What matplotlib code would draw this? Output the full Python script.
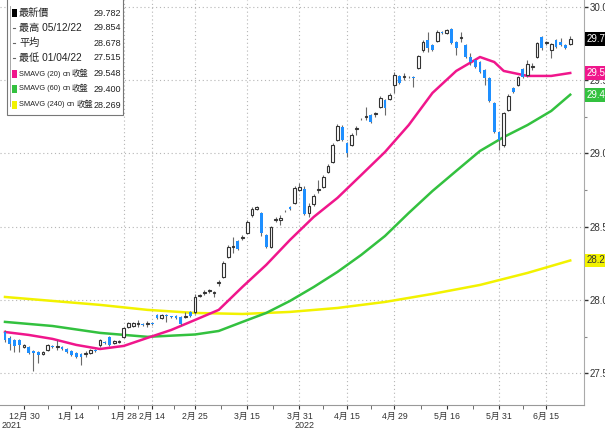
import matplotlib
matplotlib.use("Agg")
import matplotlib.pyplot as plt
import matplotlib.transforms as mtransforms
from matplotlib.patches import Rectangle
from matplotlib.lines import Line2D
import numpy as np

# daily OHLC (oldest first)
opens = [27.781, 27.741, 27.727, 27.727, 27.679, 27.679, 27.652, 27.645, 27.631, 27.659,
         27.686, 27.679, 27.679, 27.665, 27.652, 27.638, 27.631, 27.631, 27.638, 27.659,
         27.693, 27.713, 27.748, 27.706, 27.713, 27.748, 27.816, 27.822, 27.836, 27.836,
         27.835, 27.843, 27.897, 27.877, 27.891, 27.891, 27.891, 27.884, 27.884, 27.918,
         27.918, 28.027, 28.048, 28.061, 28.048, 28.116, 28.157, 28.293, 28.361, 28.402,
         28.423, 28.457, 28.580, 28.620, 28.593, 28.443, 28.361, 28.545, 28.545, 28.609,
         28.634, 28.661, 28.750, 28.757, 28.593, 28.655, 28.750, 28.770, 28.873, 28.941,
         29.091, 29.180, 29.071, 29.057, 29.166, 29.234, 29.248, 29.262, 29.268, 29.316,
         29.364, 29.371, 29.466, 29.528, 29.521, 29.521, 29.521, 29.582, 29.705, 29.773,
         29.739, 29.766, 29.828, 29.821, 29.848, 29.760, 29.787, 29.739, 29.657, 29.637,
         29.623, 29.569, 29.514, 29.343, 29.146, 29.057, 29.296, 29.446, 29.466, 29.575,
         29.534, 29.589, 29.657, 29.794, 29.753, 29.705, 29.773, 29.760, 29.739, 29.746]
highs = [27.795, 27.754, 27.734, 27.734, 27.700, 27.686, 27.659, 27.652, 27.652, 27.700,
         27.693, 27.727, 27.686, 27.672, 27.659, 27.645, 27.638, 27.652, 27.665, 27.665,
         27.734, 27.720, 27.754, 27.727, 27.727, 27.816, 27.850, 27.852, 27.863, 27.843,
         27.856, 27.850, 27.904, 27.904, 27.904, 27.893, 27.897, 27.891, 27.918, 27.925,
         28.041, 28.041, 28.068, 28.075, 28.061, 28.136, 28.266, 28.375, 28.429, 28.409,
         28.443, 28.545, 28.634, 28.641, 28.600, 28.450, 28.505, 28.566, 28.580, 28.614,
         28.641, 28.777, 28.798, 28.777, 28.661, 28.723, 28.818, 28.852, 28.927, 29.071,
         29.200, 29.193, 29.077, 29.139, 29.187, 29.241, 29.316, 29.268, 29.282, 29.391,
         29.371, 29.412, 29.555, 29.534, 29.548, 29.528, 29.528, 29.671, 29.773, 29.828,
         29.746, 29.841, 29.835, 29.848, 29.854, 29.766, 29.828, 29.746, 29.684, 29.644,
         29.630, 29.575, 29.521, 29.350, 29.152, 29.282, 29.405, 29.453, 29.528, 29.582,
         29.637, 29.616, 29.760, 29.800, 29.766, 29.753, 29.780, 29.787, 29.746, 29.800]
lows = [27.713, 27.659, 27.645, 27.645, 27.672, 27.631, 27.515, 27.570, 27.625, 27.652,
        27.672, 27.659, 27.659, 27.638, 27.618, 27.604, 27.556, 27.611, 27.631, 27.645,
        27.679, 27.700, 27.686, 27.700, 27.706, 27.741, 27.809, 27.815, 27.816, 27.822,
        27.816, 27.829, 27.870, 27.870, 27.850, 27.877, 27.870, 27.829, 27.877, 27.884,
        27.904, 28.020, 28.034, 28.048, 28.020, 28.095, 28.150, 28.286, 28.320, 28.341,
        28.409, 28.450, 28.566, 28.614, 28.436, 28.354, 28.354, 28.532, 28.511, 28.600,
        28.614, 28.655, 28.743, 28.580, 28.566, 28.641, 28.730, 28.764, 28.866, 28.934,
        29.084, 29.084, 28.975, 29.050, 29.125, 29.227, 29.227, 29.207, 29.248, 29.309,
        29.262, 29.364, 29.412, 29.473, 29.500, 29.514, 29.453, 29.575, 29.691, 29.691,
        29.698, 29.760, 29.814, 29.814, 29.746, 29.671, 29.760, 29.650, 29.603, 29.582,
        29.548, 29.466, 29.350, 29.139, 29.023, 29.043, 29.289, 29.412, 29.459, 29.514,
        29.521, 29.569, 29.650, 29.705, 29.739, 29.650, 29.719, 29.732, 29.712, 29.739]
closes = [27.727, 27.700, 27.686, 27.693, 27.693, 27.638, 27.638, 27.625, 27.645, 27.693,
          27.679, 27.686, 27.665, 27.645, 27.625, 27.611, 27.611, 27.638, 27.659, 27.652,
          27.727, 27.706, 27.693, 27.720, 27.720, 27.809, 27.843, 27.840, 27.838, 27.829,
          27.836, 27.836, 27.877, 27.897, 27.890, 27.884, 27.877, 27.836, 27.889, 27.891,
          28.020, 28.030, 28.052, 28.068, 28.052, 28.118, 28.252, 28.361, 28.366, 28.348,
          28.428, 28.532, 28.620, 28.634, 28.457, 28.361, 28.498, 28.548, 28.559, 28.604,
          28.620, 28.764, 28.770, 28.586, 28.641, 28.709, 28.757, 28.839, 28.914, 29.057,
          29.187, 29.091, 29.002, 29.125, 29.173, 29.232, 29.250, 29.214, 29.270, 29.378,
          29.309, 29.398, 29.534, 29.480, 29.524, 29.519, 29.514, 29.664, 29.760, 29.719,
          29.705, 29.828, 29.821, 29.841, 29.753, 29.719, 29.789, 29.657, 29.623, 29.589,
          29.555, 29.514, 29.357, 29.146, 29.091, 29.275, 29.391, 29.418, 29.521, 29.521,
          29.609, 29.592, 29.753, 29.719, 29.755, 29.746, 29.725, 29.739, 29.719, 29.782]

# moving averages, sampled off the chart at these candle numbers
sma20_at = [0, 5, 10, 15, 20, 25, 30, 35, 40, 45, 50, 55, 60, 65, 70, 75, 80, 85, 90, 95,
            100, 103, 105, 110, 115, 119]
sma20 = [27.781, 27.761, 27.734, 27.693, 27.665, 27.686, 27.741, 27.795, 27.863, 27.932,
         28.089, 28.239, 28.409, 28.566, 28.696, 28.852, 29.009, 29.193, 29.412, 29.562,
         29.657, 29.623, 29.562, 29.528, 29.528, 29.548]
sma60_at = [0, 10, 20, 30, 40, 45, 50, 55, 60, 65, 70, 75, 80, 85, 90, 95, 100, 105, 110,
            115, 119]
sma60 = [27.850, 27.822, 27.775, 27.748, 27.764, 27.788, 27.850, 27.911, 27.993, 28.088,
         28.191, 28.307, 28.436, 28.593, 28.743, 28.880, 29.016, 29.111, 29.193, 29.289, 29.400]
sma240_at = [0, 10, 20, 30, 40, 50, 60, 70, 80, 90, 100, 110, 119]
sma240 = [28.020, 27.993, 27.966, 27.932, 27.911, 27.904, 27.918, 27.945, 27.986, 28.041,
          28.102, 28.184, 28.269]

date_labels = ["12月 30", "1月 14", "1月 28", "2月 14", "2月 25", "3月 15", "3月 31",
               "4月 15", "4月 29", "5月 16", "5月 31", "6月 15"]
date_at = [4, 14, 25, 31, 40, 51, 62, 72, 82, 93, 104, 114]
grid_dates = ["1月 28", "2月 14", "2月 25", "3月 15", "3月 31", "4月 15", "4月 29",
              "5月 31", "6月 15"]

legend_names = ["最新價", "最高 05/12/22", "平均", "最低 01/04/22",
                "SMAVG (20)", "SMAVG (60)", "SMAVG (240)"]
legend_src = [None, None, None, None, "收盤", "收盤", "收盤"]
legend_vals = ["29.782", "29.854", "28.678", "27.515", "29.548", "29.400", "28.269"]

BLUE = "#1E8FFF"
PINK = "#F0168C"
GREEN = "#33C13F"
YELLOW = "#F2F200"

plt.rcParams["font.family"] = ["Liberation Sans", "Noto Sans CJK TC", "DejaVu Sans"]

W, H = 605, 433
fig = plt.figure(figsize=(W / 100, H / 100), dpi=100)
ax = fig.add_axes([0, 28 / H, 584 / W, 1 - 28 / H])

o, h, l, c = map(np.array, (opens, highs, lows, closes))
idx = np.arange(len(c))
up = c >= o
lo_body = np.minimum(o, c)
body = np.maximum(np.abs(c - o), 0.005)

ax.vlines(idx, l, h, color="#6a6a6a", lw=0.8, zorder=3)
ax.bar(idx[up], body[up], bottom=lo_body[up], width=0.62, facecolor="white",
       edgecolor="#333333", lw=0.8, zorder=4)
ax.bar(idx[~up], body[~up], bottom=lo_body[~up], width=0.62, color=BLUE, lw=0, zorder=4)

ax.plot(sma240_at, sma240, color=YELLOW, lw=1.8, zorder=2)
ax.plot(sma60_at, sma60, color=GREEN, lw=1.8, zorder=2)
ax.plot(sma20_at, sma20, color=PINK, lw=1.8, zorder=2)

ax.set_xlim(-1.05, 121.9)
ax.set_ylim(27.283, 30.046)

# grid
for lab, pos in zip(date_labels, date_at):
    if lab in grid_dates:
        ax.axvline(pos, color="#b5b5b5", lw=0.8, ls=(0, (1, 2.5)), zorder=1)
ax.set_yticks([27.5, 28.0, 28.5, 29.0, 29.5, 30.0])
ax.set_yticks([27.75, 28.25, 28.75, 29.25, 29.75], minor=True)
ax.grid(axis="y", which="major", color="#b5b5b5", lw=0.8, ls=(0, (1, 2.5)))
ax.yaxis.tick_right()
ax.yaxis.set_major_formatter(matplotlib.ticker.FormatStrFormatter("%.3f"))
ax.tick_params(axis="y", which="major", length=3, width=1, pad=1, labelsize=7,
               colors="#333333")
ax.tick_params(axis="y", which="minor", length=2, width=0.8, colors="#888888")

ax.set_xticks(date_at)
ax.set_xticklabels(date_labels)
mids = [(a + b) / 2 for a, b in zip(date_at[:-1], date_at[1:])]
ax.set_xticks(mids, minor=True)
ax.tick_params(axis="x", which="major", length=3, pad=2, labelsize=6.3, colors="#333333")
ax.tick_params(axis="x", which="minor", length=3, color="#555555")

for s in ["top", "left"]:
    ax.spines[s].set_visible(False)
ax.spines["bottom"].set_color("#999999")
ax.spines["right"].set_color("#aaaaaa")

trans = mtransforms.blended_transform_factory(ax.transData, ax.transAxes)
ax.text(-0.7, -0.05, "2021", transform=trans, fontsize=6.5, color="#333333",
        ha="left", va="center")
ax.text(61.0, -0.05, "2022", transform=trans, fontsize=6.5, color="#333333",
        ha="left", va="center")

# last value tags on the right
tagtr = mtransforms.blended_transform_factory(ax.transAxes, ax.transData)
for val, fc, tc in [(closes[-1], "black", "white"), (sma20[-1], PINK, "white"),
                    (sma60[-1], GREEN, "white"), (sma240[-1], YELLOW, "#333333")]:
    ax.text(1.005, val, f"{val:.3f}", transform=tagtr, ha="left", va="center",
            fontsize=7, color=tc, zorder=10, clip_on=False,
            bbox=dict(boxstyle="square,pad=0.2", fc=fc, ec="none"))

# legend panel, figure pixel coords
def fx(x):
    return x / W

def fy(y):
    return 1 - y / H

renderer = fig.canvas.get_renderer()

fig.add_artist(Rectangle((fx(7), fy(115)), fx(116), 120 / H, transform=fig.transFigure,
                         fc="white", ec="#777777", lw=0.8, zorder=20))
fig.add_artist(Line2D([fx(10), fx(10)], [fy(6), fy(106)], transform=fig.transFigure,
                      color="#999999", lw=0.6, zorder=21))
row_y = [13, 28, 43, 58, 74, 89, 105]
marks = ["black", None, None, None, PINK, GREEN, YELLOW]
for ry, name, src, val, mc in zip(row_y, legend_names, legend_src, legend_vals, marks):
    if mc is None:
        fig.add_artist(Line2D([fx(13), fx(15)], [fy(ry), fy(ry)], transform=fig.transFigure,
                              color="#666666", lw=0.8, zorder=21))
    else:
        fig.add_artist(Rectangle((fx(12), fy(ry + 4)), fx(5), 8 / H,
                                 transform=fig.transFigure, fc=mc, ec="none", zorder=21))
    if src is None:
        fig.text(fx(19), fy(ry), name, fontsize=7.3, color="#222222",
                 va="center", ha="left", zorder=22)
    else:
        t1 = fig.text(fx(19), fy(ry), name, fontsize=5.3, color="#222222",
                      va="center", ha="left", zorder=22)
        x1 = t1.get_window_extent(renderer).x1
        t2 = fig.text(fx(x1 + 2.5), fy(ry), "on", fontsize=5.3, color="#222222",
                      va="center", ha="left", zorder=22)
        x2 = t2.get_window_extent(renderer).x1
        fig.text(fx(x2 + 1), fy(ry), src, fontsize=6.0, color="#222222",
                 va="center", ha="left", zorder=22)
    fig.text(fx(121), fy(ry), val, fontsize=6.5, color="#222222", va="center",
             ha="right", zorder=22)

fig.savefig("out.png", dpi=100, facecolor="white")
